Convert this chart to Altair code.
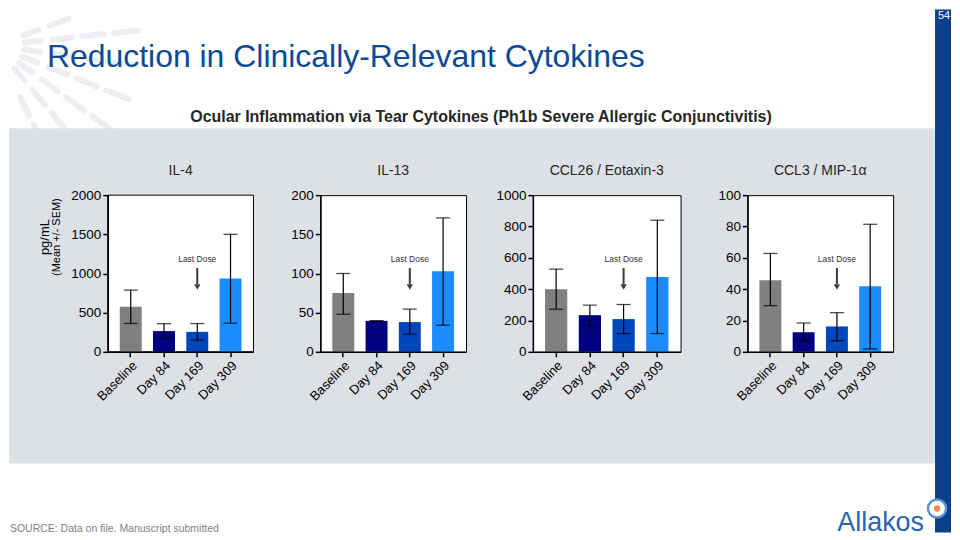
import altair as alt
import pandas as pd

# ---------------- data ----------------
categories = ["Baseline", "Day 84", "Day 169", "Day 309"]
bar_colors = ["#808080", "#000080", "#0047bb", "#1a8cff"]

panel_titles = ["IL-4", "IL-13", "CCL26 / Eotaxin-3", "CCL3 / MIP-1\u03b1"]
panel_ymax = [2000, 200, 1000, 100]
panel_ticks = [
    [0, 500, 1000, 1500, 2000],
    [0, 50, 100, 150, 200],
    [0, 200, 400, 600, 800, 1000],
    [0, 20, 40, 60, 80, 100],
]

il4_mean = [575, 265, 255, 935]
il4_lo = [362, 170, 149, 365]
il4_hi = [788, 360, 361, 1500]

il13_mean = [75, 39.5, 38, 103]
il13_lo = [48, 39.5, 22.5, 34]
il13_hi = [100, 39.5, 54.5, 171]

ccl26_mean = [400, 234, 209, 477]
ccl26_lo = [272, 166, 116, 117]
ccl26_hi = [528, 298, 302, 840]

ccl3_mean = [45.7, 12.5, 16.2, 41.9]
ccl3_lo = [29.5, 7, 7.1, 1.9]
ccl3_hi = [62.8, 18.4, 25, 81.4]

means = [il4_mean, il13_mean, ccl26_mean, ccl3_mean]
los = [il4_lo, il13_lo, ccl26_lo, ccl3_lo]
his = [il4_hi, il13_hi, ccl26_hi, ccl3_hi]

# decorative sunburst (angles in degrees, ring radii in px)
sun_angles = [-20, -6, 8, 22, 36, 50, 64, 78, 92, 106]
sun_inner = [30, 58, 88, 120]
sun_outer = [46, 78, 110, 144]

FONT = "Liberation Sans"
PANEL_W = [146, 146, 148, 146]
H = 157

# slide frame in panel-1 coordinates (panel-1 plot origin = page (107, 194))
PX0, PY0 = 107, 194


def px(x):
    return x - PX0


def py(y):
    return y - PY0


one = alt.Chart(pd.DataFrame({"k": [0]}))


def page_layers():
    layers = []
    layers.append(one.mark_rect(color="white").encode(
        x=alt.value(px(8)), x2=alt.value(px(952)), y=alt.value(py(8)), y2=alt.value(py(532))))
    # sunburst
    rows = [{"a": a, "r0": r0, "r1": r1} for a in sun_angles for r0, r1 in zip(sun_inner, sun_outer)]
    cx, cy = px(-6), py(44)
    sun = alt.Chart(pd.DataFrame(rows)).transform_calculate(
        x1=f"{cx} + datum.r0*cos(datum.a*PI/180)",
        y1=f"{cy} + datum.r0*sin(datum.a*PI/180)",
        x2=f"{cx} + datum.r1*cos(datum.a*PI/180)",
        y2=f"{cy} + datum.r1*sin(datum.a*PI/180)",
    ).transform_filter(
        f"min(datum.x1, datum.x2) >= {px(12)} && min(datum.y1, datum.y2) >= {py(12)}"
    ).mark_rule(color="#eceef2", strokeWidth=6, strokeCap="round").encode(
        x=alt.X("x1:Q", scale=None), x2="x2:Q",
        y=alt.Y("y1:Q", scale=None), y2="y2:Q")
    layers.append(sun)
    # grey band
    layers.append(one.mark_rect(color="#dde1e6").encode(
        x=alt.value(px(8)), x2=alt.value(px(936)), y=alt.value(py(127)), y2=alt.value(py(463))))
    # right strip
    layers.append(one.mark_rect(color="#0b3f88").encode(
        x=alt.value(px(936)), x2=alt.value(px(952)), y=alt.value(py(8)), y2=alt.value(py(532))))
    layers.append(one.mark_text(text="54", font=FONT, fontSize=11, color="white", align="center",
                                baseline="middle").encode(x=alt.value(px(945)), y=alt.value(py(14))))
    # titles
    layers.append(one.mark_text(text="Reduction in Clinically-Relevant Cytokines", font=FONT,
                                fontSize=32, color="#0d4a94", align="left", baseline="alphabetic").encode(
        x=alt.value(px(46)), y=alt.value(py(66))))
    layers.append(one.mark_text(text="Ocular Inflammation via Tear Cytokines (Ph1b Severe Allergic Conjunctivitis)",
                                font=FONT, fontSize=16, fontWeight="bold", color="#262626",
                                align="center", baseline="middle").encode(
        x=alt.value(px(481)), y=alt.value(py(116))))
    # footer
    layers.append(one.mark_text(text="SOURCE: Data on file. Manuscript submitted", font=FONT,
                                fontSize=10.5, color="#7f7f7f", align="left", baseline="middle").encode(
        x=alt.value(px(9)), y=alt.value(py(529))))
    layers.append(one.mark_text(text="Allakos", font=FONT, fontSize=27, fontWeight=300,
                                color="#2a64ad", align="right", baseline="alphabetic").encode(
        x=alt.value(px(925)), y=alt.value(py(531))))
    layers.append(one.mark_point(shape="circle", size=330, filled=True, color="white",
                                 stroke="#5b8fd6", strokeWidth=2.5, opacity=1).encode(
        x=alt.value(px(938)), y=alt.value(py(508))))
    layers.append(one.mark_point(shape="circle", size=40, filled=True, color="#f08a4b", opacity=1).encode(
        x=alt.value(px(938)), y=alt.value(py(508))))
    # white plot area with frame (panel 1 only, since the band covers its view)
    layers.append(one.mark_rect(color="white", stroke="black", strokeWidth=1).encode(
        x=alt.value(0), x2=alt.value(PANEL_W[0]), y=alt.value(0), y2=alt.value(H)))
    return layers


def panel(i):
    W = PANEL_W[i]
    df = pd.DataFrame({"cat": categories, "mean": means[i], "lo": los[i], "hi": his[i]})
    base = alt.Chart(df)
    xscale = alt.Scale(domain=categories, paddingInner=0.34, paddingOuter=0.36)
    xaxis = alt.Axis(title=None, labelAngle=-45, labelFontSize=13, labelPadding=2,
                     labelOverlap=False, zindex=1)
    yscale = alt.Scale(domain=[0, panel_ymax[i]], nice=False, zero=True)
    yaxis = alt.Axis(title=None, values=panel_ticks[i], format="d", labelFontSize=13.5, labelPadding=2,
                     labelOverlap=False, labelFlush=False, zindex=1)

    def X():
        return alt.X("cat:N", sort=categories, scale=xscale, axis=xaxis)

    def Y(field):
        return alt.Y(field, type="quantitative", scale=yscale, axis=yaxis)

    bars = base.mark_bar().encode(
        x=X(), y=Y("mean"),
        color=alt.Color("cat:N", scale=alt.Scale(domain=categories, range=bar_colors), legend=None),
    )
    err = base.mark_rule(color="black", strokeWidth=1.2).encode(x=X(), y=Y("lo"), y2="hi:Q")
    cap_hi = base.mark_tick(orient="horizontal", size=14, thickness=1.3, color="black").encode(
        x=X(), y=Y("hi"))
    cap_lo = base.mark_tick(orient="horizontal", size=14, thickness=1.3, color="black").encode(
        x=X(), y=Y("lo"))

    title = one.mark_text(text=panel_titles[i], font=FONT, fontSize=14, color="#262626",
                          align="center", baseline="middle").encode(
        x=alt.value(W / 2), y=alt.value(-24))
    last_txt = one.mark_text(text="Last Dose", font=FONT, fontSize=8.5, color="#333333",
                             align="center", baseline="middle").encode(
        x=alt.datum("Day 169"), y=alt.value(64))
    arrow = one.mark_rule(color="#3a3a3a", strokeWidth=2).encode(
        x=alt.datum("Day 169"), y=alt.value(73), y2=alt.value(89))
    head = one.mark_point(shape="triangle-down", filled=True, size=40, color="#3a3a3a", opacity=1).encode(
        x=alt.datum("Day 169"), y=alt.value(92))

    layers = []
    if i == 0:
        layers += page_layers()
    layers += [bars, err, cap_hi, cap_lo, last_txt, arrow, head, title]
    if i == 0:
        layers.append(one.mark_text(text="pg/mL", font=FONT, fontSize=13, color="black", angle=270,
                                    align="center", baseline="middle").encode(
            x=alt.value(px(44)), y=alt.value(py(236))))
        layers.append(one.mark_text(text="(Mean +/- SEM)", font=FONT, fontSize=11, color="black", angle=270,
                                    align="center", baseline="middle").encode(
            x=alt.value(px(56)), y=alt.value(py(236))))
    return alt.layer(*layers).properties(width=W, height=H)


chart = alt.hconcat(*[panel(i) for i in range(4)], spacing=67, bounds="flush").properties(
    padding=0, background="white"
).configure_view(
    stroke="black", strokeWidth=1, fill="white"
).configure_axis(
    domainColor="black", domainWidth=1.5, tickColor="black", tickWidth=1.5, tickSize=5,
    labelColor="black", labelFont=FONT, grid=False
)

chart.save("out.html", embed_options={"renderer": "svg", "actions": False})
